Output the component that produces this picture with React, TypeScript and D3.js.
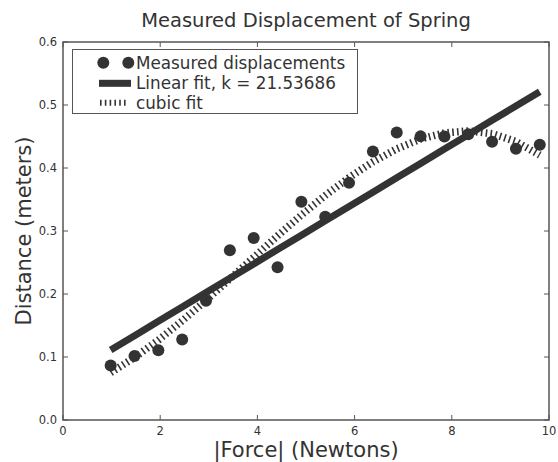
import React from "react";
import * as d3 from "d3";

const forces = [0.981, 1.4715, 1.962, 2.4525, 2.943, 3.4335, 3.924, 4.4145, 4.905, 5.3955, 5.886, 6.3765, 6.867, 7.3575, 7.848, 8.3385, 8.829, 9.3195, 9.81];
const measured = [0.0865, 0.1015, 0.1106, 0.1279, 0.1892, 0.2695, 0.2888, 0.2425, 0.3465, 0.3225, 0.3764, 0.4263, 0.4562, 0.4502, 0.4499, 0.4534, 0.4416, 0.4304, 0.437];
const linearFit = [0.1112, 0.1339, 0.1567, 0.1795, 0.2023, 0.2251, 0.2478, 0.2706, 0.2934, 0.3162, 0.3389, 0.3617, 0.3845, 0.4073, 0.4301, 0.4528, 0.4756, 0.4984, 0.5212];
const cubicFit = [0.0751, 0.0992, 0.1268, 0.1574, 0.19, 0.2239, 0.2582, 0.2923, 0.3253, 0.3564, 0.3848, 0.4097, 0.4304, 0.446, 0.4557, 0.4588, 0.4545, 0.442, 0.4205];
const xTicks = [0, 2, 4, 6, 8, 10];
const yTicks = [0, 0.1, 0.2, 0.3, 0.4, 0.5, 0.6];
const legendLabels = ["Measured displacements", "Linear fit, k = 21.53686", "cubic fit"];

const FONT = "'DejaVu Sans', sans-serif";
const INK = "#333";
const FRAME = "#555";

export default function App() {
  const W = 558, H = 462;
  const left = 63, right = 549, top = 42, bottom = 420;
  const x = d3.scaleLinear().domain([0, 10]).range([left, right]);
  const y = d3.scaleLinear().domain([0, 0.6]).range([bottom, top]);
  const line = d3.line<[number, number]>().x(d => x(d[0])).y(d => y(d[1]));
  const linPts: [number, number][] = forces.map((f, i) => [f, linearFit[i]]);
  const cubPts: [number, number][] = forces.map((f, i) => [f, cubicFit[i]]);
  const dash = "1.6 3.2";
  const tickLen = 5;
  const rowY = [62.7, 83.3, 102.7];

  return (
    <svg width={W} height={H} style={{ position: "absolute", left: 0, top: 0 }} fontFamily={FONT}>
      <rect width={W} height={H} fill="white" />
      <text x={(left + right) / 2} y={27} textAnchor="middle" fontSize={19.5} fill={INK}>Measured Displacement of Spring</text>

      {/* data */}
      <path d={line(cubPts) || ""} fill="none" stroke={INK} strokeWidth={7.5} strokeDasharray={dash} />
      <path d={line(linPts) || ""} fill="none" stroke={INK} strokeWidth={7} />
      {forces.map((f, i) => (
        <circle key={i} cx={x(f)} cy={y(measured[i])} r={6} fill={INK} />
      ))}

      {/* frame */}
      <rect x={left} y={top} width={right - left} height={bottom - top} fill="none" stroke={FRAME} strokeWidth={1.5} />
      {xTicks.map(t => (
        <g key={"x" + t}>
          <line x1={x(t)} x2={x(t)} y1={bottom} y2={bottom - tickLen} stroke={FRAME} strokeWidth={1} />
          <line x1={x(t)} x2={x(t)} y1={top} y2={top + tickLen} stroke={FRAME} strokeWidth={1} />
          <text x={x(t)} y={bottom + 15} textAnchor="middle" fontSize={11.5} fill={INK}>{t}</text>
        </g>
      ))}
      {yTicks.map(t => (
        <g key={"y" + t}>
          <line x1={left} x2={left + tickLen} y1={y(t)} y2={y(t)} stroke={FRAME} strokeWidth={1} />
          <line x1={right} x2={right - tickLen} y1={y(t)} y2={y(t)} stroke={FRAME} strokeWidth={1} />
          <text x={57} y={y(t) + 4} textAnchor="end" fontSize={11.5} fill={INK}>{t.toFixed(1)}</text>
        </g>
      ))}

      <text x={(left + right) / 2} y={457} textAnchor="middle" fontSize={21} fill={INK}>|Force| (Newtons)</text>
      <text transform={`translate(31, ${(top + bottom) / 2}) rotate(-90)`} textAnchor="middle" fontSize={21} fill={INK}>Distance (meters)</text>

      {/* legend */}
      <g>
        <rect x={72.5} y={49.5} width={285} height={64} fill="white" stroke={FRAME} strokeWidth={1} />
        <circle cx={103.3} cy={rowY[0]} r={6} fill={INK} />
        <circle cx={128.3} cy={rowY[0]} r={6} fill={INK} />
        <line x1={99} x2={131} y1={rowY[1]} y2={rowY[1]} stroke={INK} strokeWidth={7} />
        <line x1={100} x2={128} y1={rowY[2]} y2={rowY[2]} stroke={INK} strokeWidth={6} strokeDasharray={dash} />
        {legendLabels.map((l, i) => (
          <text key={l} x={136} y={rowY[i] + 6} fontSize={16.8} fill={INK}>{l}</text>
        ))}
      </g>
    </svg>
  );
}
